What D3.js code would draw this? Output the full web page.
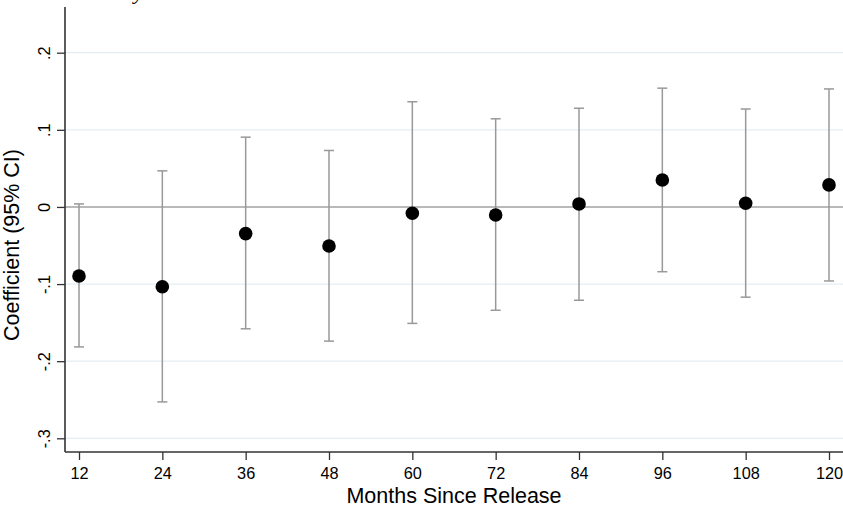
<!DOCTYPE html>
<html>
<head>
<meta charset="utf-8">
<script src="https://cdn.jsdelivr.net/npm/d3@7"></script>
<style>
  html, body { margin: 0; padding: 0; background: #fff; }
  svg { display: block; }
  text { font-family: "Liberation Sans", Arial, Helvetica, sans-serif; fill: #000; }
</style>
</head>
<body>
<svg id="chart" width="843" height="514"></svg>
<script>
// Months since release
const months = [12, 24, 36, 48, 60, 72, 84, 96, 108, 120];
// Point estimates
const coef  = [-0.0896, -0.1035, -0.0346, -0.0506, -0.0082, -0.0104, 0.0039, 0.0350, 0.0048, 0.0286];
// 95% confidence bounds
const lower = [-0.1815, -0.2528, -0.1580, -0.1740, -0.1510, -0.1340, -0.1210, -0.0840, -0.1170, -0.0960];
const upper = [0.0039, 0.0468, 0.0905, 0.0732, 0.1364, 0.1143, 0.1280, 0.1540, 0.1270, 0.1530];
// Axis ticks
const yTicks = [-0.3, -0.2, -0.1, 0, 0.1, 0.2];
const yTickLabels = ["-.3", "-.2", "-.1", "0", ".1", ".2"];

const rows = months.map((m, i) => ({ m, b: coef[i], lo: lower[i], hi: upper[i] }));

const svg = d3.select("#chart");
const W = 843, H = 514;
const axisX = 65, axisY = 452, plotTop = 7;

const x = d3.scaleLinear().domain([12, 120]).range([79, 829]);
const y = d3.scaleLinear().domain([-0.3, 0.2]).range([438.3, 52.7]);

// Gridlines
svg.append("g").selectAll("line")
  .data(yTicks.filter(t => t !== 0))
  .join("line")
  .attr("x1", axisX).attr("x2", W)
  .attr("y1", d => y(d)).attr("y2", d => y(d))
  .attr("stroke", "#e4eef2").attr("stroke-width", 1.2);

// Reference line at zero
svg.append("line")
  .attr("x1", axisX).attr("x2", W)
  .attr("y1", y(0)).attr("y2", y(0))
  .attr("stroke", "#a2a2a2").attr("stroke-width", 1.4);

// Y axis
const yAxis = d3.axisLeft(y).tickValues(yTicks).tickSize(8)
  .tickFormat((d, i) => yTickLabels[i]);
const gy = svg.append("g").attr("transform", `translate(${axisX},0)`).call(yAxis);
gy.select(".domain").remove();
gy.selectAll(".tick line").attr("stroke", "#333").attr("stroke-width", 1.3);
gy.selectAll(".tick text")
  .attr("x", null).attr("dy", null)
  .attr("transform", "translate(-15,0) rotate(-90)")
  .attr("text-anchor", "middle")
  .style("font-size", "16.3px")
  .attr("fill", "#000");
svg.append("line")
  .attr("x1", axisX).attr("x2", axisX).attr("y1", plotTop).attr("y2", axisY)
  .attr("stroke", "#333").attr("stroke-width", 1.6);

// X axis
const xAxis = d3.axisBottom(x).tickValues(months).tickSize(8).tickFormat(d3.format("d"));
const gx = svg.append("g").attr("transform", `translate(0,${axisY})`).call(xAxis);
gx.select(".domain").remove();
gx.selectAll(".tick line").attr("stroke", "#333").attr("stroke-width", 1.3);
gx.selectAll(".tick text")
  .attr("y", 27).attr("dy", null)
  .style("font-size", "16.3px")
  .attr("fill", "#000");
svg.append("line")
  .attr("x1", axisX).attr("x2", W).attr("y1", axisY).attr("y2", axisY)
  .attr("stroke", "#333").attr("stroke-width", 1.6);

// Confidence intervals
const ci = svg.append("g").attr("stroke", "#999").attr("stroke-width", 1.5);
ci.selectAll("line.bar").data(rows).join("line").attr("class", "bar")
  .attr("x1", d => x(d.m)).attr("x2", d => x(d.m))
  .attr("y1", d => y(d.lo)).attr("y2", d => y(d.hi));
ci.selectAll("line.capHi").data(rows).join("line").attr("class", "capHi")
  .attr("x1", d => x(d.m) - 5).attr("x2", d => x(d.m) + 5)
  .attr("y1", d => y(d.hi)).attr("y2", d => y(d.hi));
ci.selectAll("line.capLo").data(rows).join("line").attr("class", "capLo")
  .attr("x1", d => x(d.m) - 5).attr("x2", d => x(d.m) + 5)
  .attr("y1", d => y(d.lo)).attr("y2", d => y(d.lo));

// Point estimates
svg.append("g").selectAll("circle").data(rows).join("circle")
  .attr("cx", d => x(d.m)).attr("cy", d => y(d.b))
  .attr("r", 6.8).attr("fill", "#000");

// Axis titles
svg.append("text")
  .attr("x", 454).attr("y", 503)
  .attr("text-anchor", "middle")
  .style("font-size", "21.5px")
  .text("Months Since Release");
svg.append("text")
  .attr("transform", "translate(18.5,245) rotate(-90)")
  .attr("text-anchor", "middle")
  .style("font-size", "21.5px")
  .text("Coefficient (95% CI)");

// Title above the plot, mostly outside the visible area
svg.append("text")
  .attr("x", 134).attr("y", -1)
  .style("font-family", "'Liberation Serif', 'Times New Roman', serif")
  .style("font-style", "italic")
  .style("font-size", "22px")
  .text("y");
</script>
</body>
</html>
